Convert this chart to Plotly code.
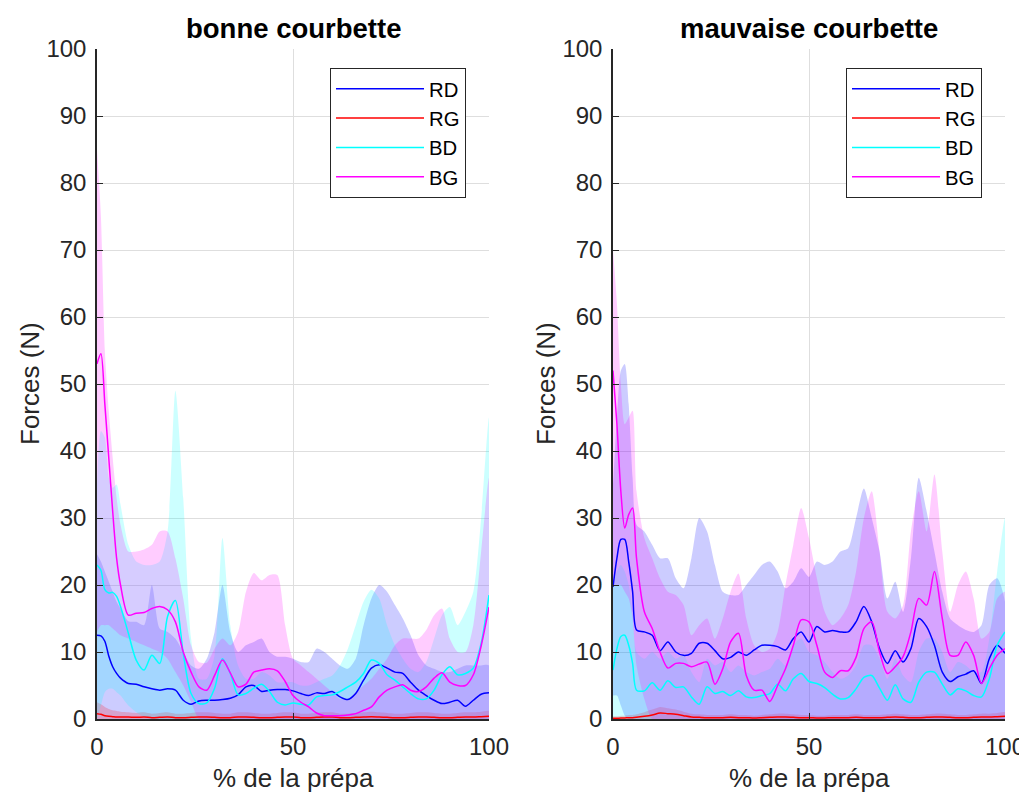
import plotly.graph_objects as go

# x positions (% de la prépa)
X = [0, 1, 2, 3, 4, 5, 6] + list(range(8, 101, 2))
Z = [0.0] * len(X)

# ---------------- bonne courbette (left) ----------------
RD_L_mean = [12.5, 12.4, 11.6, 9.4, 7.8, 6.8, 6.1,
             5.3, 5.2, 4.8, 4.5, 4.3, 4.5, 4.3, 2.8, 2.2, 2.7,
             2.8, 2.8, 2.9, 3.1, 3.6, 4.8, 5.0, 4.1, 4.3, 4.4,
             4.4, 4.2, 3.8, 3.5, 3.9, 3.8, 4.1, 3.3, 2.9, 3.8,
             5.8, 7.6, 8.1, 7.6, 7.0, 6.8, 5.5, 4.3, 3.5, 2.8,
             2.3, 2.5, 2.8, 1.9, 2.8, 3.7, 3.9]
RD_L_up = [24.6, 23.5, 22, 20.5, 19, 17.5, 16.5,
           14.6, 14.5, 14, 20, 13.5, 13, 12, 10, 8, 7.5,
           9, 13, 20, 13, 10, 11, 11.5, 12, 10, 9.3,
           9.3, 9, 8.5, 8.5, 10.5, 10, 9, 8, 7.5, 9,
           14, 18, 20, 19, 17, 15, 12.5, 9.5, 8, 7.5,
           7, 7, 7.5, 8, 8, 8, 8]
RD_L_lo = list(Z)

RG_L_mean = [0.8, 0.7, 0.5, 0.4, 0.35, 0.3, 0.3,
             0.3, 0.25, 0.3, 0.2, 0.25, 0.3, 0.2, 0.2, 0.25, 0.3,
             0.3, 0.25, 0.2, 0.2, 0.3, 0.3, 0.25, 0.2, 0.2, 0.25,
             0.3, 0.3, 0.2, 0.2, 0.25, 0.3, 0.3, 0.2, 0.2, 0.25,
             0.3, 0.35, 0.3, 0.25, 0.2, 0.2, 0.25, 0.3, 0.3, 0.25,
             0.2, 0.2, 0.25, 0.3, 0.3, 0.35, 0.4]
RG_L_up = [2.5, 2.2, 1.8, 1.5, 1.3, 1.2, 1.1,
           1.0, 0.9, 1.0, 0.8, 0.9, 1.0, 0.8, 0.8, 0.9, 1.0,
           1.0, 0.9, 0.8, 0.8, 1.0, 1.0, 0.9, 0.8, 0.8, 0.9,
           1.0, 1.0, 0.8, 0.8, 0.9, 1.0, 1.0, 0.8, 0.8, 0.9,
           1.0, 1.1, 1.0, 0.9, 0.8, 0.8, 0.9, 1.0, 1.0, 0.9,
           0.8, 0.8, 0.9, 1.0, 1.0, 1.1, 1.2]
RG_L_lo = list(Z)

BD_L_mean = [23, 22.2, 19.3, 18.8, 18.9, 18.3, 16.8,
             12.8, 8.8, 7.3, 9.5, 8.3, 15.3, 17.7, 9.8, 3.8, 2.3,
             2.4, 4.6, 9.0, 6.8, 3.6, 3.8, 4.6, 5.2, 4.1, 2.5,
             2.1, 2.4, 2.2, 2.1, 3.3, 3.5, 3.6, 4.1, 4.8, 5.5,
             6.8, 8.8, 8.3, 6.6, 5.8, 4.8, 3.8, 3.0, 3.0, 4.3,
             6.6, 7.8, 6.6, 6.8, 7.6, 11.3, 18.5]
BD_L_up = [35, 43, 42, 36, 34.5, 35, 32,
           26, 23.5, 23, 23, 23.5, 28, 49, 33, 12, 6,
           6, 9.5, 27, 14, 8, 6, 6, 7, 6.5, 5.5,
           5.5, 5.5, 5, 5, 5.5, 6, 6.5, 8, 10.5, 14,
           17.5, 19.3, 18, 14, 11, 9, 7.5, 7, 8.5, 12,
           15.5, 16.7, 14, 16, 19, 30, 45]
BD_L_lo = [0, 2, 4, 4.5, 4.5, 4, 3.5, 2, 1, 0.3] + [0.0] * 44

BG_L_mean = [53, 54.5, 47, 39, 31, 24, 20,
             15.5, 15.8, 15.9, 16.5, 16.8, 16.3, 14.5, 10, 7, 4.8,
             4.3, 6.5, 8.8, 6.9, 4.8, 5.2, 7.0, 7.3, 7.5, 7.2,
             5.6, 3.5, 2.5, 1.8, 0.9, 0.5, 0.5, 0.5, 0.6, 0.8,
             1.3, 1.8, 3.3, 4.3, 4.8, 5.1, 4.3, 4.1, 4.8, 6.1,
             6.9, 5.5, 5.0, 5.0, 6.6, 10.9, 16.7]
BG_L_up = [85, 75, 55, 46, 39, 33, 29,
           25, 25, 25.3, 26, 28, 28, 24, 18, 11, 8.5,
           8.4, 10.5, 12, 11, 13, 19, 21.8, 20.7, 21.5, 21.5,
           14, 9, 8, 7, 6, 5, 4, 3, 3, 4,
           5, 6, 7.5, 9, 11, 12, 12, 12, 13.3, 15.5,
           16.5, 12, 10, 10, 14, 25, 36]
BG_L_lo = [13, 14, 14, 14, 13.5, 13, 12.5, 12, 11.5, 11, 10.5, 10, 9, 7, 5, 2.5] + [0.0] * 38

# ---------------- mauvaise courbette (right) ----------------
RD_R_mean = [19.7, 24, 26.8, 26.8, 23.5, 19, 13.3,
             13, 12.5, 10.2, 11.5, 10, 9.5, 9.8, 11.3, 11.3, 10.2,
             9, 9.2, 10, 9.5, 10.3, 11, 11, 10.8, 10.3, 12,
             13, 11.5, 13.8, 13, 13.2, 13, 13, 14.5, 16.8, 14.5,
             10.5, 8.3, 10.2, 8.5, 10.5, 15, 13.8, 11, 7, 5.6,
             6.3, 6.7, 7.2, 5.3, 9, 11, 9.8]
RD_R_up = [35, 45, 52, 53, 47, 36, 29,
           28, 26, 24, 24, 21, 19.5, 24, 30, 28, 23,
           19, 18.5, 18.5, 20, 21.5, 23, 23.5, 22, 19.5, 20.5,
           22.5, 21.2, 23.5, 23, 23.5, 25, 25.5, 30, 34.4, 30,
           25, 18, 20.5, 16, 24, 36, 31, 25, 19, 15,
           14, 13.3, 13, 14, 20, 21, 17.5]
RD_R_lo = [3.5, 3.5, 2, 0.5] + [0.0] * 50

RG_R_mean = [0.1, 0.1, 0.15, 0.15, 0.2, 0.2, 0.25,
             0.4, 0.6, 0.9, 0.8, 0.7, 0.5, 0.3, 0.25, 0.2, 0.2,
             0.2, 0.25, 0.2, 0.2, 0.15, 0.2, 0.25, 0.3, 0.3, 0.25,
             0.2, 0.2, 0.15, 0.15, 0.2, 0.2, 0.2, 0.25, 0.2, 0.2,
             0.2, 0.25, 0.3, 0.25, 0.2, 0.2, 0.25, 0.3, 0.3, 0.25,
             0.2, 0.2, 0.25, 0.3, 0.3, 0.35, 0.4]
RG_R_up = [0.4, 0.4, 0.5, 0.5, 0.6, 0.6, 0.7,
           1.0, 1.4, 1.8, 1.6, 1.4, 1.1, 0.8, 0.7, 0.6, 0.6,
           0.6, 0.7, 0.6, 0.6, 0.5, 0.6, 0.7, 0.8, 0.8, 0.7,
           0.6, 0.6, 0.5, 0.5, 0.6, 0.6, 0.6, 0.7, 0.6, 0.6,
           0.6, 0.7, 0.8, 0.7, 0.6, 0.6, 0.7, 0.8, 0.8, 0.7,
           0.6, 0.6, 0.7, 0.8, 0.8, 0.9, 1.0]
RG_R_lo = list(Z)

BD_R_mean = [7.3, 10.5, 12.3, 12.5, 11, 8.3, 4.3,
             4.2, 5.4, 4.3, 5.7, 4.7, 4.8, 3.3, 2.2, 4.8, 3.8,
             4.1, 3.5, 4.2, 3.3, 3.2, 3.5, 3.8, 5.2, 4.2, 6,
             6.8, 5.6, 5.3, 4.7, 3.7, 3, 3.2, 4.5, 6.2, 6.5,
             4.6, 2.8, 5.1, 3, 2.5, 5.5, 7, 7, 5.2, 3.6,
             4.5, 4.2, 3.5, 3.3, 6, 11, 13]
BD_R_up = [20, 22, 23, 22, 20, 16, 10,
           9, 10, 9, 10, 9, 9.5, 7, 5.5, 9, 8,
           8.5, 7, 8, 7, 6.5, 7, 7.5, 9, 8, 11,
           12, 10, 9.5, 8.5, 7, 6, 6.5, 8, 11, 11,
           9, 6, 9, 6.5, 5.5, 10, 12, 12, 10, 7,
           8.5, 8, 7, 7, 12, 22, 30]
BD_R_lo = list(Z)

BG_R_mean = [52, 44, 34, 28.5, 30.5, 31.5, 24,
             16, 13.5, 10, 7.6, 8.3, 8.3, 7.8, 8.2, 8.5, 5.2,
             7.5, 11.5, 12.8, 6.5, 4.3, 4.3, 2.6, 5, 7.5, 11,
             14.8, 14.5, 11, 7, 6.2, 7.2, 7.2, 9.2, 13.5, 14.5,
             10, 6.8, 7.8, 9.3, 13, 18, 17, 22, 15, 9.5,
             9.5, 11.5, 9.5, 5.3, 7.5, 9.5, 10.5]
BG_R_up = [70, 62, 50, 44, 45, 46, 34,
           27, 24, 21, 19, 18.5, 17, 12.5, 14, 15, 12,
           15, 19, 21.7, 15, 11, 10, 10.5, 13, 20, 26,
           31.5, 27, 21, 16, 14, 15, 17, 22, 30, 34,
           25, 16, 15, 17, 28, 34, 28, 36.5, 25, 16,
           20, 22, 18, 12, 13, 18, 19]
BG_R_lo = [20, 20, 20, 19, 18, 15, 8, 3] + [0.0] * 46

SERIES = ["RD", "RG", "BD", "BG"]
LINE_COLORS = {"RD": "rgb(0,0,255)", "RG": "rgb(255,0,0)",
               "BD": "rgb(0,255,255)", "BG": "rgb(255,0,255)"}
FILL_COLORS = {"RD": "rgba(0,0,255,0.2)", "RG": "rgba(255,0,0,0.2)",
               "BD": "rgba(0,255,255,0.2)", "BG": "rgba(255,0,255,0.2)"}

PANELS = [
    dict(xa="x", ya="y", legend="legend", data={
        "RD": (RD_L_mean, RD_L_up, RD_L_lo), "RG": (RG_L_mean, RG_L_up, RG_L_lo),
        "BD": (BD_L_mean, BD_L_up, BD_L_lo), "BG": (BG_L_mean, BG_L_up, BG_L_lo)}),
    dict(xa="x2", ya="y2", legend="legend2", data={
        "RD": (RD_R_mean, RD_R_up, RD_R_lo), "RG": (RG_R_mean, RG_R_up, RG_R_lo),
        "BD": (BD_R_mean, BD_R_up, BD_R_lo), "BG": (BG_R_mean, BG_R_up, BG_R_lo)}),
]

fig = go.Figure()
for pn in PANELS:
    for s in SERIES:
        mean, up, lo = pn["data"][s]
        fig.add_trace(go.Scatter(
            x=X + X[::-1], y=up + lo[::-1], fill="toself",
            fillcolor=FILL_COLORS[s], line=dict(width=0, shape="spline", smoothing=0.7),
            mode="lines", hoverinfo="skip", showlegend=False,
            xaxis=pn["xa"], yaxis=pn["ya"]))
    for s in SERIES:
        mean, up, lo = pn["data"][s]
        fig.add_trace(go.Scatter(
            x=X, y=mean, mode="lines", name=s,
            line=dict(color=LINE_COLORS[s], width=1.5, shape="spline", smoothing=0.8),
            xaxis=pn["xa"], yaxis=pn["ya"], legend=pn["legend"]))

FONT = "Liberation Sans, Arial, Helvetica, sans-serif"
TXT = "#262626"
OFF = 8  # page body margin
W, H = 1027 - OFF, 794 - OFF


def fx(px):
    return (px - OFF) / W


def fy(py):
    return 1 - (py - OFF) / H


def ax(**kw):
    d = dict(range=[0, 100], showgrid=True, gridcolor="#dedede", gridwidth=1,
             zeroline=False, showline=True, linecolor=TXT, linewidth=1.5,
             ticks="inside", ticklen=6, tickwidth=1.3, tickcolor=TXT,
             tickfont=dict(family=FONT, size=24, color=TXT), automargin=False,
             fixedrange=True)
    d.update(kw)
    return d


ydom = [fy(719), fy(49)]
LEG = dict(yanchor="top", xanchor="left", y=fy(68),
           bgcolor="white", bordercolor=TXT, borderwidth=1,
           font=dict(family=FONT, size=20.3, color="black"),
           itemwidth=88, tracegroupgap=0)
fig.update_layout(
    width=W, height=H, autosize=False,
    margin=dict(l=0, r=0, t=0, b=0),
    paper_bgcolor="white", plot_bgcolor="white",
    xaxis=ax(domain=[fx(97), fx(489)], anchor="y", tickvals=[0, 50, 100], ticklabelstandoff=5),
    yaxis=ax(domain=ydom, anchor="x", tickvals=list(range(0, 101, 10)), ticklabelstandoff=4),
    xaxis2=ax(domain=[fx(613), fx(1005)], anchor="y2", tickvals=[0, 50, 100], ticklabelstandoff=5),
    yaxis2=ax(domain=ydom, anchor="x2", tickvals=list(range(0, 101, 10)), ticklabelstandoff=4),
    legend=dict(LEG, x=fx(330)),
    legend2=dict(LEG, x=fx(846)),
)

ann = []
for cx, title in [(293, "bonne courbette"), (809, "mauvaise courbette")]:
    ann.append(dict(text="<b>%s</b>" % title, x=fx(cx), y=fy(28), xref="paper", yref="paper",
                    xanchor="center", yanchor="middle", showarrow=False,
                    font=dict(family=FONT, size=27.5, color="black")))
    ann.append(dict(text="% de la prépa", x=fx(cx), y=fy(778), xref="paper", yref="paper",
                    xanchor="center", yanchor="middle", showarrow=False,
                    font=dict(family=FONT, size=26, color=TXT)))
for lx in [30, 546]:
    ann.append(dict(text="Forces (N)", x=fx(lx), y=fy(384), xref="paper", yref="paper",
                    xanchor="center", yanchor="middle", showarrow=False, textangle=-90,
                    font=dict(family=FONT, size=26, color=TXT)))
fig.update_layout(annotations=ann)

fig.write_html("out.html")
